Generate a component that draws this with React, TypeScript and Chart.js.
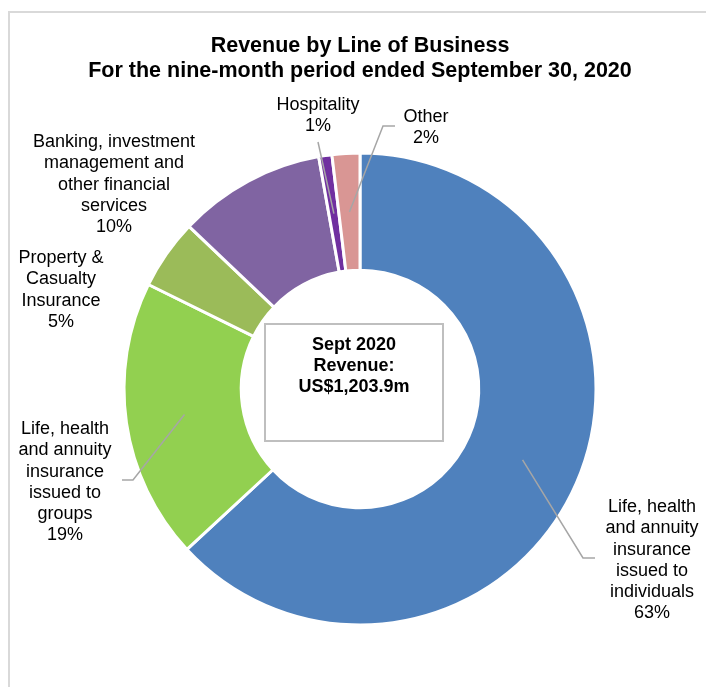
import { useEffect, useRef } from "react";
import { Chart, registerables } from "chart.js";

Chart.register(...registerables);

// ---- data ----
const categories = [
  "Life, health and annuity insurance issued to individuals",
  "Life, health and annuity insurance issued to groups",
  "Property & Casualty Insurance",
  "Banking, investment management and other financial services",
  "Hospitality",
  "Other",
];
const values = [63.1, 19.2, 4.8, 10.1, 0.9, 1.9];
const percentLabels = ["63%", "19%", "5%", "10%", "1%", "2%"];
const labelLines = [
  ["Life, health", "and annuity", "insurance", "issued to", "individuals"],
  ["Life, health", "and annuity", "insurance", "issued to", "groups"],
  ["Property &", "Casualty", "Insurance"],
  ["Banking, investment", "management and", "other financial", "services"],
  ["Hospitality"],
  ["Other"],
];
const colors = ["#4F81BD", "#92D050", "#9BBB59", "#8064A2", "#7030A0", "#D99694"];
const titleLines = ["Revenue by Line of Business", "For the nine-month period ended September 30, 2020"];
const centerLines = ["Sept 2020", "Revenue:", "US$1,203.9m"];

// ---- layout (label placement, not data) ----
type LabelPos = { x: number; y: number; leader?: [number, number][] };
const labelLayout: LabelPos[] = [
  { x: 652, y: 507, leader: [[595, 558], [583, 558]] },
  { x: 65, y: 429, leader: [[122, 480], [133, 480]] },
  { x: 61, y: 258 },
  { x: 114, y: 142 },
  { x: 318, y: 105, leader: [[318, 142]] },
  { x: 426, y: 117, leader: [[395, 126], [383, 126]] },
];
const FONT = "'Liberation Sans', Arial, sans-serif";

const decorPlugin = {
  id: "decor",
  beforeDraw(chart: any) {
    const ctx = chart.ctx;
    ctx.save();
    ctx.fillStyle = "#ffffff";
    ctx.fillRect(0, 0, chart.width, chart.height);
    ctx.strokeStyle = "#D9D9D9";
    ctx.lineWidth = 2;
    ctx.beginPath();
    ctx.moveTo(9, chart.height);
    ctx.lineTo(9, 12);
    ctx.lineTo(chart.width, 12);
    ctx.stroke();
    ctx.restore();
  },
  afterDraw(chart: any) {
    const ctx = chart.ctx;
    ctx.save();
    // title
    ctx.fillStyle = "#000000";
    ctx.textAlign = "center";
    ctx.textBaseline = "middle";
    ctx.font = `bold 21.5px ${FONT}`;
    titleLines.forEach((t, i) => ctx.fillText(t, 360, 46 + i * 25));

    // center box
    ctx.strokeStyle = "#BFBFBF";
    ctx.lineWidth = 2;
    ctx.strokeRect(265, 324, 178, 117);
    ctx.font = `bold 18px ${FONT}`;
    centerLines.forEach((t, i) => ctx.fillText(t, 354, 345 + i * 21));

    // leader lines + labels
    const meta = chart.getDatasetMeta(0);
    ctx.font = `18px ${FONT}`;
    labelLayout.forEach((pos, i) => {
      const lines = [...labelLines[i], percentLabels[i]];
      lines.forEach((t, j) => ctx.fillText(t, pos.x, pos.y + j * 21.3));
      if (pos.leader) {
        const arc = meta.data[i];
        const c = arc.getCenterPoint();
        ctx.strokeStyle = "#A6A6A6";
        ctx.lineWidth = 1.5;
        ctx.beginPath();
        ctx.moveTo(pos.leader[0][0], pos.leader[0][1]);
        for (let k = 1; k < pos.leader.length; k++) ctx.lineTo(pos.leader[k][0], pos.leader[k][1]);
        ctx.lineTo(c.x, c.y);
        ctx.stroke();
      }
    });
    ctx.restore();
  },
};

export default function App() {
  const ref = useRef<HTMLCanvasElement | null>(null);
  useEffect(() => {
    if (!ref.current) return;
    const chart = new Chart(ref.current, {
      type: "doughnut",
      data: {
        labels: categories,
        datasets: [
          {
            data: values,
            backgroundColor: colors,
            borderColor: "#ffffff",
            borderWidth: 3,
          },
        ],
      },
      options: {
        animation: false,
        responsive: false,
        maintainAspectRatio: false,
        radius: 236,
        cutout: 118,
        layout: { padding: { left: 124, right: 110, top: 153, bottom: 62 } },
        plugins: {
          legend: { display: false },
          tooltip: { enabled: false },
          title: { display: false },
        },
      },
      plugins: [decorPlugin],
    });
    return () => chart.destroy();
  }, []);
  return (
    <div style={{ position: "fixed", left: 0, top: 0, width: 706, height: 687, background: "#fff" }}>
      <canvas ref={ref} width={706} height={687} style={{ width: 706, height: 687, display: "block" }} />
    </div>
  );
}
